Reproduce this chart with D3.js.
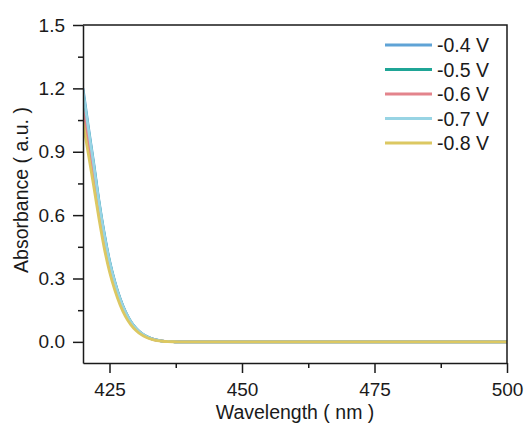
<!DOCTYPE html>
<html lang="en">
<head>
<meta charset="UTF-8">
<title>Absorbance</title>
<script src="https://d3js.org/d3.v7.min.js"></script>
<style>
    html, body { margin: 0; padding: 0; background: #fff; }
    svg text { font-family: "Liberation Sans", Arial, sans-serif; fill: #1a1a1a; }
    .axis path, .axis line { stroke: #1a1a1a; stroke-width: 1.5; fill: none; }
    .axis text { font-size: 19px; }
    .curve { fill: none; stroke-width: 2.8; stroke-linejoin: round; }
</style>
</head>
<body>
<svg id="chart" width="528" height="428"></svg>
<script>
    // wavelength (nm)
    var wavelengths = [420, 421, 422, 423, 424, 425, 426, 427, 428, 429, 430,
        431, 432, 433, 434, 435, 436, 437, 438, 440, 445, 450, 460, 470, 480, 490, 500];

    var labels = ["-0.4 V", "-0.5 V", "-0.6 V", "-0.7 V", "-0.8 V"];
    var colors = ["#5fa3d6", "#1fa596", "#e3848c", "#98d4e4", "#dcc862"];

    var s04 = [1.20, 1.02, 0.85, 0.67, 0.515, 0.385, 0.285, 0.205, 0.143, 0.097, 0.064,
        0.041, 0.025, 0.015, 0.008, 0.004, 0.002, 0.001, 0, 0, 0, 0, 0, 0, 0, 0, 0];
    var s05 = [1.18, 1.005, 0.837, 0.66, 0.507, 0.379, 0.281, 0.202, 0.141, 0.095, 0.063,
        0.04, 0.025, 0.014, 0.008, 0.004, 0.002, 0.001, 0, 0, 0, 0, 0, 0, 0, 0, 0];
    var s06 = [1.10, 0.95, 0.80, 0.64, 0.49, 0.368, 0.274, 0.197, 0.137, 0.093, 0.062,
        0.04, 0.024, 0.014, 0.007, 0.004, 0.002, 0.001, 0, 0, 0, 0, 0, 0, 0, 0, 0];
    var s07 = [1.19, 1.012, 0.843, 0.665, 0.511, 0.382, 0.283, 0.203, 0.142, 0.096, 0.063,
        0.041, 0.025, 0.015, 0.008, 0.004, 0.002, 0.001, 0, 0, 0, 0, 0, 0, 0, 0, 0];
    var s08 = [1.04, 0.89, 0.74, 0.585, 0.445, 0.332, 0.245, 0.175, 0.121, 0.082, 0.054,
        0.034, 0.021, 0.012, 0.006, 0.003, 0.0015, 0.0005, 0, 0, 0, 0, 0, 0, 0, 0, 0];
    var series = [s04, s05, s06, s07, s08];

    var xTicks = [425, 450, 475, 500],
        xMinor = [437.5, 462.5, 487.5],
        yTicks = [0, 0.3, 0.6, 0.9, 1.2, 1.5],
        yMinor = [0.15, 0.45, 0.75, 1.05, 1.35];

    var svg = d3.select("#chart"),
        margin = { top: 25, right: 21, bottom: 65, left: 83 },
        width = +svg.attr("width") - margin.left - margin.right,
        height = +svg.attr("height") - margin.top - margin.bottom;

    var x = d3.scaleLinear().domain([420, 500]).range([0, width]),
        y = d3.scaleLinear().domain([-0.1, 1.5]).range([height, 0]);

    var g = svg.append("g")
        .attr("transform", "translate(" + margin.left + "," + margin.top + ")");

    g.append("clipPath").attr("id", "clip")
        .append("rect").attr("width", width).attr("height", height);

    var line = d3.line()
        .x((d, i) => x(wavelengths[i]))
        .y(d => y(d))
        .curve(d3.curveMonotoneX);

    g.append("g").attr("clip-path", "url(#clip)")
        .selectAll(".curve")
        .data(series)
        .enter().append("path")
        .attr("class", "curve")
        .attr("stroke", (d, i) => colors[i])
        .attr("d", line);

    // minor ticks first, then the major axis
    g.append("g")
        .attr("class", "axis")
        .attr("transform", "translate(0," + height + ")")
        .call(d3.axisBottom(x).tickValues(xMinor).tickSize(5).tickFormat(""))
        .select(".domain").remove();
    g.append("g")
        .attr("class", "axis")
        .call(d3.axisLeft(y).tickValues(yMinor).tickSize(5).tickFormat(""))
        .select(".domain").remove();

    g.append("g")
        .attr("class", "axis axis--x")
        .attr("transform", "translate(0," + height + ")")
        .call(d3.axisBottom(x).tickValues(xTicks).tickSize(10).tickSizeOuter(0).tickPadding(10).tickFormat(d3.format("d")));

    g.append("g")
        .attr("class", "axis axis--y")
        .call(d3.axisLeft(y).tickValues(yTicks).tickSize(10).tickSizeOuter(0).tickPadding(8).tickFormat(d3.format(".1f")));

    // top and right frame
    g.append("path")
        .attr("d", "M0,0H" + width + "V" + height)
        .attr("fill", "none")
        .attr("stroke", "#1a1a1a")
        .attr("stroke-width", 1.5);

    // axis titles
    g.append("text")
        .attr("x", width / 2)
        .attr("y", height + 55.5)
        .attr("text-anchor", "middle")
        .style("font-size", "19.5px")
        .text("Wavelength ( nm )");

    g.append("text")
        .attr("transform", "rotate(-90)")
        .attr("x", -height / 2 + 4)
        .attr("y", -55)
        .attr("text-anchor", "middle")
        .style("font-size", "19.5px")
        .text("Absorbance ( a.u. )");

    // legend
    var legend = g.selectAll(".legend")
        .data(labels)
        .enter().append("g")
        .attr("class", "legend")
        .attr("transform", (d, i) => "translate(" + (385 - margin.left) + "," + (45 - margin.top + i * 24.5) + ")");

    legend.append("line")
        .attr("x1", 0).attr("x2", 47)
        .attr("stroke", (d, i) => colors[i])
        .attr("stroke-width", 2.8);

    legend.append("text")
        .attr("x", 52)
        .attr("dy", "0.36em")
        .style("font-size", "19.5px")
        .text(d => d);
</script>
</body>
</html>
